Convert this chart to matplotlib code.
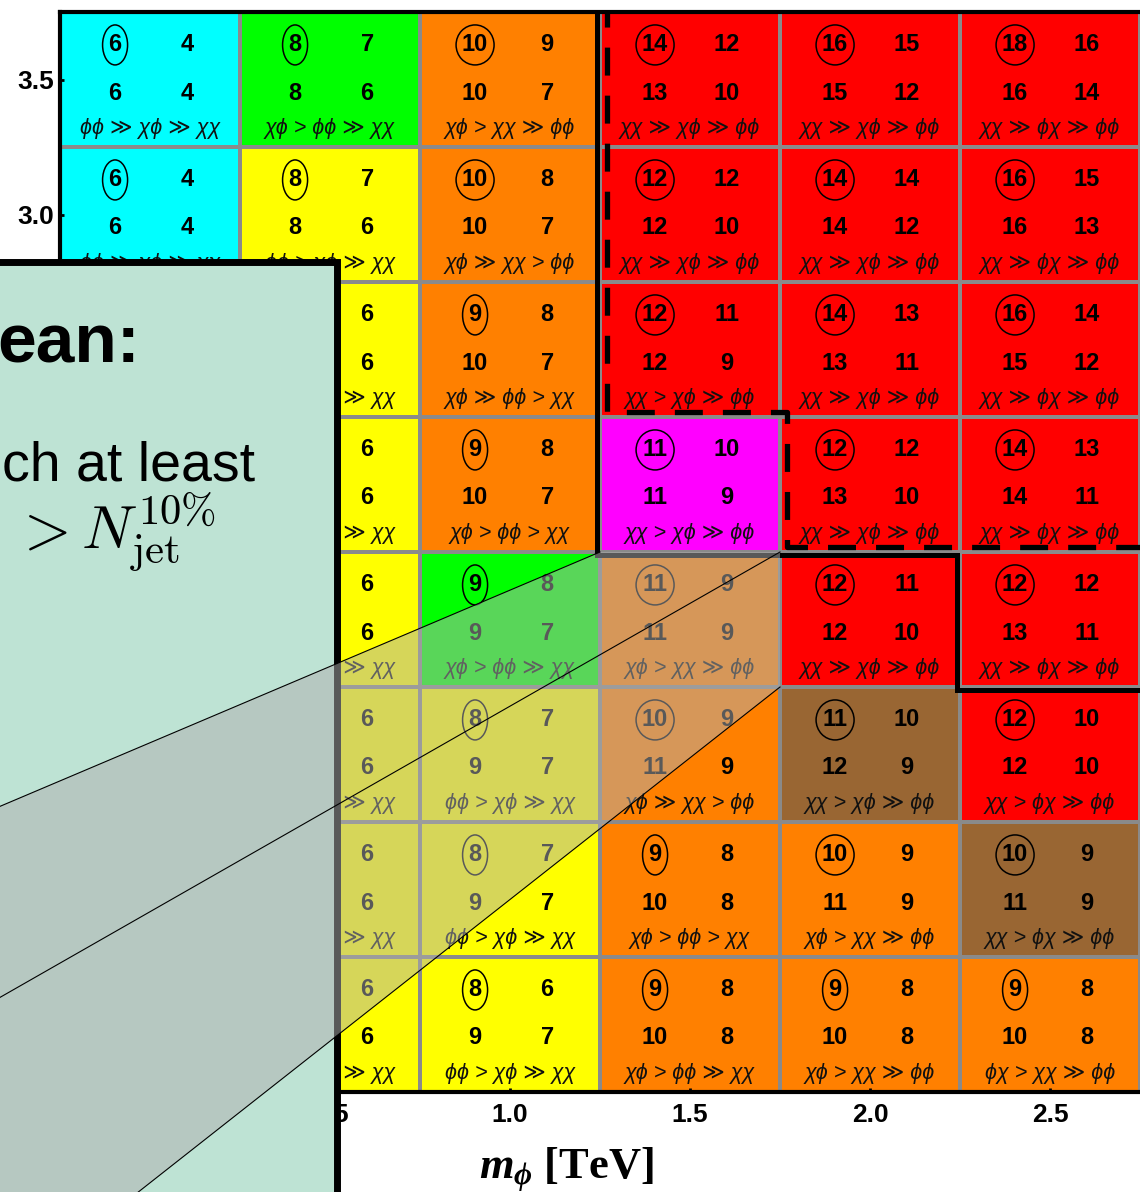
import matplotlib.pyplot as plt
import numpy as np
from matplotlib.colors import ListedColormap
from matplotlib.patches import Rectangle, Polygon, Ellipse
from matplotlib.lines import Line2D
from matplotlib.transforms import ScaledTranslation

# math in the axis label: bold serif like the original slide
plt.rcParams['mathtext.fontset'] = 'custom'
plt.rcParams['mathtext.rm'] = 'Liberation Serif:bold'
plt.rcParams['mathtext.it'] = 'Liberation Serif:italic:bold'
plt.rcParams['mathtext.bf'] = 'Liberation Serif:bold'

SANS = ['Liberation Sans', 'DejaVu Sans']

# grid axes (cell centres)
m_phi = [0.0, 0.5, 1.0, 1.5, 2.0, 2.5]
m_chi = [3.5, 3.0, 2.5, 2.0, 1.5, 1.0, 0.5, 0.0]   # top row first
phi_ticks = [0.5, 1.0, 1.5, 2.0, 2.5]
chi_labels = ['3.5', '3.0', '', '', '', '', '', '']   # the rest sit under the box

# colour class of each cell, rows top -> bottom
palette = {'C': '#00ffff', 'G': '#00ff00', 'Y': '#ffff00', 'O': '#ff8000',
           'R': '#ff0000', 'M': '#ff00ff', 'B': '#996633'}
cell_colour = [
    'CGORRR',
    'CYORRR',
    'CYORRR',
    'CYOMRR',
    'CYGORR',
    'CYYOBR',
    'CYYOOB',
    'CYYOOO',
]

# the four numbers per cell (circled one is top-left); None = hidden under the box
N = None
circled = [
    [6, 8, 10, 14, 16, 18],
    [6, 8, 10, 12, 14, 16],
    [N, N, 9, 12, 14, 16],
    [N, N, 9, 11, 12, 14],
    [N, N, 9, 11, 12, 12],
    [N, N, 8, 10, 11, 12],
    [N, N, 8, 9, 10, 10],
    [N, N, 8, 9, 9, 9],
]
top_right = [
    [4, 7, 9, 12, 15, 16],
    [4, 7, 8, 12, 14, 15],
    [N, 6, 8, 11, 13, 14],
    [N, 6, 8, 10, 12, 13],
    [N, 6, 8, 9, 11, 12],
    [N, 6, 7, 9, 10, 10],
    [N, 6, 7, 8, 9, 9],
    [N, 6, 6, 8, 8, 8],
]
bot_left = [
    [6, 8, 10, 13, 15, 16],
    [6, 8, 10, 12, 14, 16],
    [N, N, 10, 12, 13, 15],
    [N, N, 10, 11, 13, 14],
    [N, N, 9, 11, 12, 13],
    [N, N, 9, 11, 12, 12],
    [N, N, 9, 10, 11, 11],
    [N, N, 9, 10, 10, 10],
]
bot_right = [
    [4, 6, 7, 10, 12, 14],
    [4, 6, 7, 10, 12, 13],
    [N, 6, 7, 9, 11, 12],
    [N, 6, 7, 9, 10, 11],
    [N, 6, 7, 9, 10, 11],
    [N, 6, 7, 9, 9, 10],
    [N, 6, 7, 8, 9, 9],
    [N, 6, 7, 8, 8, 8],
]
ordering = [
    ['ϕϕ ≫ χϕ ≫ χχ', 'χϕ > ϕϕ ≫ χχ', 'χϕ > χχ ≫ ϕϕ', 'χχ ≫ χϕ ≫ ϕϕ', 'χχ ≫ χϕ ≫ ϕϕ', 'χχ ≫ ϕχ ≫ ϕϕ'],
    ['ϕϕ ≫ χϕ ≫ χχ', 'ϕϕ > χϕ ≫ χχ', 'χϕ ≫ χχ > ϕϕ', 'χχ ≫ χϕ ≫ ϕϕ', 'χχ ≫ χϕ ≫ ϕϕ', 'χχ ≫ ϕχ ≫ ϕϕ'],
    [N, 'ϕϕ > χϕ ≫ χχ', 'χϕ ≫ ϕϕ > χχ', 'χχ > χϕ ≫ ϕϕ', 'χχ ≫ χϕ ≫ ϕϕ', 'χχ ≫ ϕχ ≫ ϕϕ'],
    [N, 'ϕϕ > χϕ ≫ χχ', 'χϕ > ϕϕ > χχ', 'χχ > χϕ ≫ ϕϕ', 'χχ ≫ χϕ ≫ ϕϕ', 'χχ ≫ ϕχ ≫ ϕϕ'],
    [N, 'ϕϕ > χϕ ≫ χχ', 'χϕ > ϕϕ ≫ χχ', 'χϕ > χχ ≫ ϕϕ', 'χχ ≫ χϕ ≫ ϕϕ', 'χχ ≫ ϕχ ≫ ϕϕ'],
    [N, 'ϕϕ > χϕ ≫ χχ', 'ϕϕ > χϕ ≫ χχ', 'χϕ ≫ χχ > ϕϕ', 'χχ > χϕ ≫ ϕϕ', 'χχ > ϕχ ≫ ϕϕ'],
    [N, 'ϕϕ > χϕ ≫ χχ', 'ϕϕ > χϕ ≫ χχ', 'χϕ > ϕϕ > χχ', 'χϕ > χχ ≫ ϕϕ', 'χχ > ϕχ ≫ ϕϕ'],
    [N, 'ϕϕ > χϕ ≫ χχ', 'ϕϕ > χϕ ≫ χχ', 'χϕ > ϕϕ ≫ χχ', 'χϕ > χχ ≫ ϕϕ', 'ϕχ > χχ ≫ ϕϕ'],
]

# region boundaries (cell edges)
solid_x = [1.25, 1.25, 2.25, 2.25, 2.75]
solid_y = [3.75, 1.75, 1.75, 1.25, 1.25]
dashed_x = [1.25, 1.25, 1.75, 1.75, 2.75]
dashed_y = [3.75, 2.25, 2.25, 1.75, 1.75]

# zoom callout: cell corners and far corners of the magnified view
zoom_near = [(1.25, 1.75), (1.75, 1.75), (1.75, 1.25)]
zoom_far = [(-1.25, 0.337), (-1.25, -0.534), (-1.25, -1.898)]

half = 0.25
x_edges = np.append(np.array(m_phi) - half, m_phi[-1] + half)
y_edges = np.append(np.array(m_chi) + half, m_chi[-1] - half)
keys = list(palette)
codes = np.array([[keys.index(c) for c in row] for row in cell_colour])

fig = plt.figure(figsize=(11.4, 11.92), dpi=100)
ax = fig.add_axes([60 / 1140, 100 / 1192, 1080 / 1140, 1080 / 1192])

ax.pcolormesh(x_edges, y_edges, codes, cmap=ListedColormap([palette[k] for k in keys]),
              vmin=-0.5, vmax=len(keys) - 0.5, edgecolors='#8a8a8a', linewidth=1.6)

num_kw = dict(ha='center', va='center', fontsize=17, fontweight='bold', family=SANS)
for i, yc in enumerate(m_chi):
    for j, xc in enumerate(m_phi):
        c = circled[i][j]
        if c is not None:
            ax.text(xc - 0.097, yc + 0.128, str(c), **num_kw)
            # ring around the circled number, sized in inches
            w = 0.25 if c < 10 else 0.38
            ring_tr = fig.dpi_scale_trans + ScaledTranslation(xc - 0.097, yc + 0.128, ax.transData)
            ax.add_patch(Ellipse((0, 0), w, 0.40, transform=ring_tr, fill=False,
                                 ec='black', lw=1.1, zorder=3))
        if top_right[i][j] is not None:
            ax.text(xc + 0.103, yc + 0.128, str(top_right[i][j]), **num_kw)
        if bot_left[i][j] is not None:
            ax.text(xc - 0.097, yc - 0.05, str(bot_left[i][j]), **num_kw)
        if bot_right[i][j] is not None:
            ax.text(xc + 0.103, yc - 0.05, str(bot_right[i][j]), **num_kw)
        if ordering[i][j] is not None:
            ax.text(xc, yc - 0.18, ordering[i][j], ha='center', va='center',
                    fontsize=15.5, style='italic', family=SANS, color='#111111')

# thick region borders, nudged off the cell edges like the original
solid_shift = ax.transData + ScaledTranslation(-0.03, -0.03, fig.dpi_scale_trans)
dash_shift = ax.transData + ScaledTranslation(0.065, 0.05, fig.dpi_scale_trans)
ax.plot(solid_x, solid_y, color='black', lw=3.6, transform=solid_shift,
        solid_joinstyle='miter', zorder=4)
ax.plot(dashed_x, dashed_y, color='black', lw=3.8, ls=(1.5, (5.3, 3.8)),
        transform=dash_shift, zorder=4)

ax.set_xlim(m_phi[0] - half, m_phi[-1] + half)
ax.set_ylim(m_chi[-1] - half, m_chi[0] + half)
ax.set_xticks(phi_ticks)
ax.set_xticklabels(['%.1f' % v for v in phi_ticks])
ax.set_yticks(m_chi)
ax.set_yticklabels(chi_labels)
for lab in ax.get_xticklabels() + ax.get_yticklabels():
    lab.set_fontsize(19)
    lab.set_fontweight('bold')
    lab.set_family(SANS)
ax.tick_params(direction='in', length=3, width=2)
ax.tick_params(axis='x', pad=8)
ax.tick_params(axis='y', pad=4)
ax.spines['right'].set_visible(False)
for s in ['left', 'top', 'bottom']:
    ax.spines[s].set_linewidth(3)

ax.set_xlabel(r'$m_{\phi}$ [TeV]', fontsize=32, fontweight='bold', family='Liberation Serif')
ax.xaxis.set_label_coords(0.469, -0.049)

# slide overlay box on the left
fig.add_artist(Rectangle((-0.05, -0.05), 0.2952 + 0.05, 0.7806 + 0.05,
                         transform=fig.transFigure, fc='#bee3d4', ec='black', lw=5, zorder=2))
fig.text(-0.002, 0.6963, 'ean:', fontsize=50, fontweight='bold', family=SANS,
         va='baseline', zorder=3)
fig.text(0.002, 0.5965, 'ch at least', fontsize=40, family=SANS, va='baseline', zorder=3)
fig.text(0.011, 0.5405, r'$> N_{\mathrm{jet}}^{10\%}$', fontsize=44, math_fontfamily='cm',
         va='baseline', zorder=3)

# translucent zoom wedge and its guide lines
wedge = [zoom_near[0], zoom_near[1], zoom_near[2], zoom_far[2], zoom_far[0]]
fig.add_artist(Polygon(wedge, closed=True, transform=ax.transData, fc='#afafaf',
                       ec='none', alpha=0.51, zorder=4))
for (x0, y0), (x1, y1) in zip(zoom_far, zoom_near):
    fig.add_artist(Line2D([x0, x1], [y0, y1], transform=ax.transData, color='black',
                          lw=0.8, zorder=5))

fig.savefig('out.png', dpi=100, facecolor='white')
